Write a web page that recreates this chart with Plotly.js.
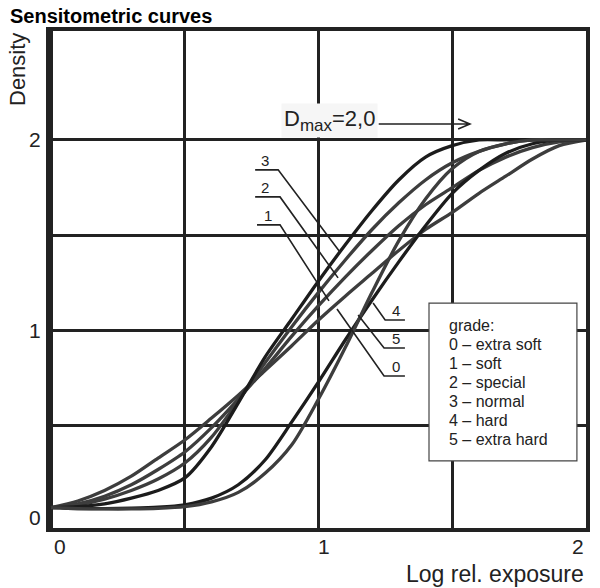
<!DOCTYPE html>
<html>
<head>
<meta charset="utf-8">
<script src="https://cdn.plot.ly/plotly-3.0.1.min.js"></script>
<style>
  html, body { margin: 0; padding: 0; background: #fff; }
  #chart { width: 600px; height: 588px; }
</style>
</head>
<body>
<div id="chart"></div>
<script>
// log relative exposure sample points
const logExposure = [0, 0.1, 0.2, 0.3, 0.4, 0.5, 0.6, 0.7, 0.8, 0.9, 1.0, 1.1, 1.2, 1.3, 1.4, 1.5, 1.6, 1.7, 1.8, 1.9, 2.0];

// density per paper grade
const grade0 = [0.07, 0.105, 0.16, 0.235, 0.33, 0.425, 0.54, 0.66, 0.79, 0.92, 1.055, 1.18, 1.30, 1.42, 1.53, 1.62, 1.72, 1.81, 1.90, 1.97, 2.0];
const grade1 = [0.07, 0.09, 0.13, 0.19, 0.27, 0.362, 0.49, 0.64, 0.80, 0.97, 1.13, 1.28, 1.42, 1.55, 1.66, 1.75, 1.84, 1.91, 1.96, 1.99, 2.0];
const grade2 = [0.07, 0.085, 0.115, 0.16, 0.22, 0.304, 0.44, 0.63, 0.83, 1.02, 1.20, 1.37, 1.53, 1.67, 1.79, 1.88, 1.94, 1.98, 2.0, 2.0, 2.0];
const grade3 = [0.07, 0.075, 0.09, 0.12, 0.16, 0.226, 0.39, 0.62, 0.86, 1.06, 1.26, 1.45, 1.63, 1.79, 1.91, 1.97, 2.0, 2.0, 2.0, 2.0, 2.0];
const grade4 = [0.07, 0.065, 0.065, 0.067, 0.072, 0.085, 0.12, 0.19, 0.32, 0.52, 0.73, 0.95, 1.16, 1.36, 1.55, 1.72, 1.84, 1.93, 1.98, 2.0, 2.0];
const grade5 = [0.07, 0.065, 0.063, 0.063, 0.066, 0.075, 0.10, 0.15, 0.25, 0.40, 0.64, 0.91, 1.20, 1.47, 1.69, 1.85, 1.94, 1.98, 2.0, 2.0, 2.0];

const gradeSeries = [grade0, grade1, grade2, grade3, grade4, grade5];
const gradeNames = ['0 – extra soft', '1 – soft', '2 – special', '3 – normal', '4 – hard', '5 – extra hard'];
const gradeColors = ['#3d3d3d', '#3d3d3d', '#3d3d3d', '#1c1c1c', '#1c1c1c', '#3d3d3d'];

// axis tick labels
const xTicks = [0, 1, 2];
const yTicks = [0, 1, 2];

// leader lines: [label, label x, label y, path points]
const leaders = [
  ['3', 0.80, 1.843, [[0.763, 1.843], [0.849, 1.843], [1.080, 1.412]]],
  ['2', 0.80, 1.701, [[0.763, 1.701], [0.856, 1.701], [1.073, 1.276]]],
  ['1', 0.81, 1.554, [[0.770, 1.554], [0.856, 1.554], [1.039, 1.155]]],
  ['4', 1.29, 1.055, [[1.204, 1.144], [1.249, 1.055], [1.323, 1.055]]],
  ['5', 1.29, 0.908, [[1.148, 1.081], [1.245, 0.908], [1.323, 0.908]]],
  ['0', 1.29, 0.761, [[1.069, 1.113], [1.245, 0.761], [1.323, 0.761]]]
];

const ink = '#222222';
const font = 'Liberation Sans, Arial, sans-serif';

const traces = gradeSeries.map((ys, i) => ({
  x: logExposure,
  y: ys,
  type: 'scatter',
  mode: 'lines',
  name: gradeNames[i],
  line: { color: gradeColors[i], width: 3.3, shape: 'spline', smoothing: 0.8 },
  hoverinfo: 'skip'
}));

const shapes = leaders.map(l => ({
  type: 'path',
  xref: 'x', yref: 'y',
  path: 'M ' + l[3].map(p => p[0] + ',' + p[1]).join(' L '),
  line: { color: ink, width: 1.6 }
}));

// D max arrow
shapes.push({
  type: 'path', xref: 'x', yref: 'y',
  path: 'M 1.225,2.084 L 1.566,2.084 M 1.522,2.110 L 1.566,2.084 L 1.522,2.058',
  line: { color: ink, width: 1.6 }
});

// grade key box
shapes.push({
  type: 'rect', xref: 'x', yref: 'y', layer: 'above',
  x0: 1.413, x1: 1.966, y0: 0.315, y1: 1.144,
  fillcolor: '#ffffff', line: { color: '#444', width: 1.2 }
});

const annotations = leaders.map(l => ({
  x: l[1], y: l[2], xref: 'x', yref: 'y',
  text: l[0], showarrow: false, yanchor: 'bottom', yshift: -1,
  font: { family: font, size: 15, color: ink }
}));

['grade:'].concat(gradeNames).forEach((t, i) => annotations.push({
  x: 1.48, y: 1.144, xref: 'x', yref: 'y',
  xanchor: 'left', yanchor: 'middle', yshift: -22 - 19 * i,
  text: t, showarrow: false,
  font: { family: font, size: 16, color: ink }
}));

// tick labels
xTicks.forEach((v, i) => annotations.push({
  x: v, y: 0, xref: 'x', yref: 'paper',
  text: String(v), showarrow: false,
  xanchor: ['left', 'center', 'right'][i], xshift: [1, 5, 0][i],
  yanchor: 'middle', yshift: -18,
  font: { family: font, size: 21, color: ink }
}));
yTicks.forEach((v, i) => annotations.push({
  x: 0, y: v, xref: 'paper', yref: 'y',
  text: String(v), showarrow: false,
  xanchor: 'center', xshift: -15,
  yanchor: 'middle', yshift: i === 0 ? 3 : 0,
  font: { family: font, size: 21, color: ink }
}));

annotations.push({
  x: 1.222, y: 2.10, xref: 'x', yref: 'y',
  text: 'D<sub><span style="font-size:17px">max</span></sub>=2,0', showarrow: false, xanchor: 'right',
  bgcolor: '#f6f6f6', borderpad: 2,
  font: { family: font, size: 22, color: ink }
});

// axis titles placed like the original
annotations.push({
  x: -32 / 536, y: (528 - 70) / 497, xref: 'paper', yref: 'paper',
  text: 'Density', textangle: -90, showarrow: false,
  xanchor: 'center', yanchor: 'middle',
  font: { family: font, size: 22, color: ink }
});
annotations.push({
  x: 1, y: (528 - 574) / 497, xref: 'paper', yref: 'paper',
  text: 'Log rel. exposure', showarrow: false,
  xanchor: 'right', yanchor: 'middle',
  font: { family: font, size: 23, color: ink }
});

const layout = {
  width: 600,
  height: 588,
  paper_bgcolor: '#ffffff',
  plot_bgcolor: '#ffffff',
  showlegend: false,
  margin: { l: 50, r: 14, t: 31, b: 60 },
  title: {
    text: '<b>Sensitometric curves</b>',
    xref: 'container', yref: 'container',
    x: 10 / 600, xanchor: 'left', y: 1 - 16 / 588, yanchor: 'middle',
    font: { family: 'Liberation Sans Narrow, Arial Narrow, Liberation Sans, sans-serif', size: 20, color: '#000' }
  },
  xaxis: {
    range: [-0.004, 2.0],
    tickvals: [0, 0.5, 1, 1.5, 2],
    showticklabels: false,
    ticks: '',
    showgrid: true, gridcolor: ink, gridwidth: 3,
    zeroline: false,
    showline: true, mirror: true, linecolor: ink, linewidth: 4,
    fixedrange: true
  },
  yaxis: {
    range: [-0.037, 2.572],
    tickvals: [0.5, 1, 1.5, 2],
    showticklabels: false,
    ticks: '',
    showgrid: true, gridcolor: ink, gridwidth: 3,
    zeroline: false,
    showline: true, mirror: true, linecolor: ink, linewidth: 4,
    fixedrange: true
  },
  shapes: shapes,
  annotations: annotations
};

Plotly.newPlot('chart', traces, layout, { displayModeBar: false, staticPlot: true });
</script>
</body>
</html>
